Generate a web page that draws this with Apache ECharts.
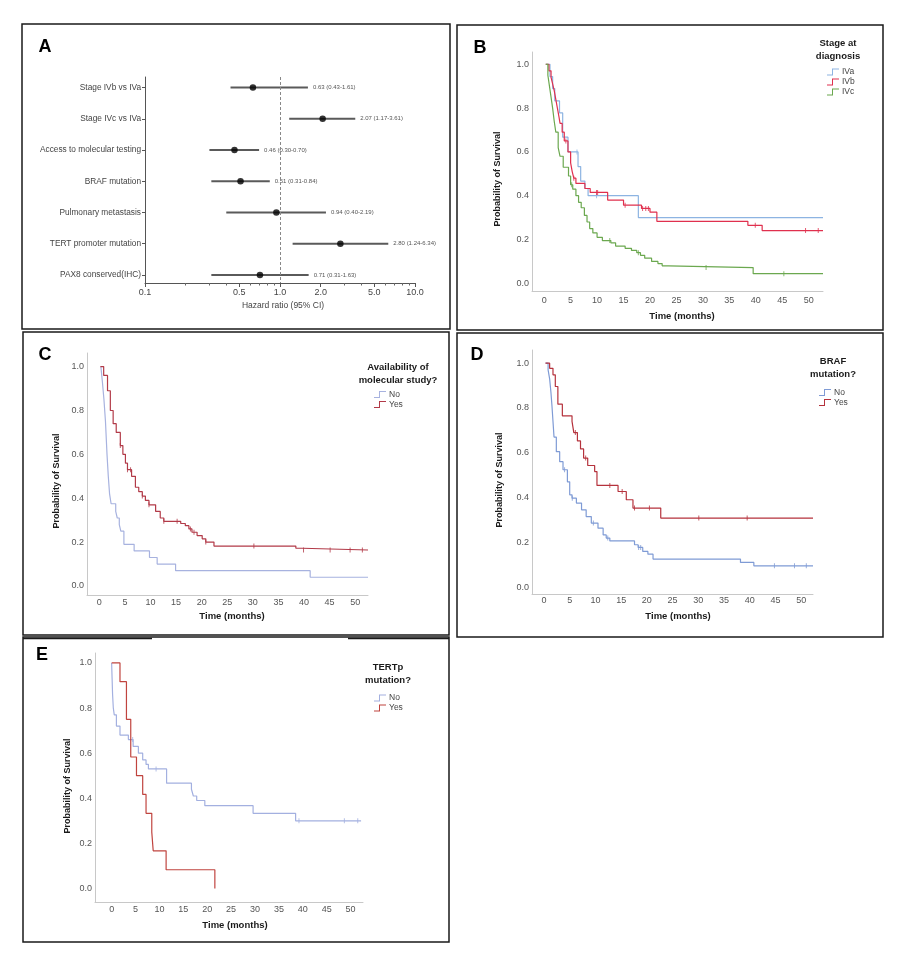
<!DOCTYPE html>
<html>
<head>
<meta charset="utf-8">
<script src="https://cdn.jsdelivr.net/npm/echarts@6.0.0/dist/echarts.min.js"></script>
<style>
  body { margin: 0; background: #fff; }
  #main { width: 906px; height: 956px; }
</style>
</head>
<body>
<div id="main"></div>
<script>
// ---- panel A: hazard ratios ----
var factorNames = ['Stage IVb vs IVa', 'Stage IVc vs IVa', 'Access to molecular testing', 'BRAF mutation',
    'Pulmonary metastasis', 'TERT promoter mutation', 'PAX8 conserved(IHC)'];
var hrValues = [0.63, 2.07, 0.46, 0.51, 0.94, 2.80, 0.71];
var hrLower = [0.43, 1.17, 0.30, 0.31, 0.40, 1.24, 0.31];
var hrUpper = [1.61, 3.61, 0.70, 0.84, 2.19, 6.34, 1.63];
var hrTicks = [0.1, 0.5, 1, 2, 5, 10];
var hrTickText = ['0.1', '0.5', '1.0', '2.0', '5.0', '10.0'];
var hrMinorTicks = [0.2, 0.3, 0.4, 0.6, 0.7, 0.8, 0.9, 3, 4, 6, 7, 8, 9];

// ---- survival curves: [month, survival] ----
var timeTicks = [0, 5, 10, 15, 20, 25, 30, 35, 40, 45, 50];
var survTicks = [0, 0.2, 0.4, 0.6, 0.8, 1.0];

// B: stage at diagnosis
var stageIVa = [[0.3, 1], [1.1, 0.944], [1.6, 0.889], [2.0, 0.833], [2.9, 0.778], [3.5, 0.667], [4.5, 0.6],
    [6.4, 0.533], [6.9, 0.467], [7.7, 0.433], [8.3, 0.4], [17.8, 0.3], [52.7, 0.3]];
var stageIVaCens = [6.2, 9.9];
var stageIVb = [[0.3, 1], [0.9, 0.97], [1.3, 0.94], [1.6, 0.91], [1.9, 0.88], [2.2, 0.84], [2.5, 0.8], [2.8, 0.76],
    [3.0, 0.73], [3.4, 0.69], [3.8, 0.65], [4.5, 0.6], [5.0, 0.55], [5.3, 0.51], [5.6, 0.48], [6.0, 0.456],
    [7.7, 0.433], [8.7, 0.415], [12.0, 0.38], [15.0, 0.357], [18.4, 0.342], [20.0, 0.325], [21.3, 0.283],
    [38.5, 0.265], [41.2, 0.241], [52.7, 0.241]];
var stageIVbCens = [4.1, 5.6, 9.9, 10.1, 15.3, 18.6, 19.2, 19.7, 39.9, 49.4, 51.8];
var stageIVc = [[0.3, 1], [0.7, 0.95], [1.0, 0.9], [1.3, 0.85], [1.6, 0.8], [1.9, 0.74], [2.2, 0.69], [2.65, 0.62],
    [3.0, 0.58], [3.6, 0.53], [4.6, 0.49], [5.0, 0.45], [5.4, 0.43], [6.0, 0.4], [6.5, 0.37], [7.0, 0.345],
    [7.6, 0.31], [8.1, 0.28], [8.6, 0.25], [9.2, 0.23], [10.0, 0.21], [11.0, 0.195], [12.6, 0.185], [13.5, 0.17],
    [15.3, 0.16], [16.5, 0.15], [17.5, 0.14], [18.2, 0.128], [19.0, 0.115], [20.3, 0.1], [21.5, 0.09],
    [22.3, 0.08], [23.5, 0.072], [39.5, 0.044], [52.7, 0.044]];
var stageIVcCens = [5.2, 12.4, 17.8, 30.6, 45.3];

// C: availability of molecular study
var molecNo = [[0.3, 1], [0.6, 0.93], [0.9, 0.85], [1.2, 0.75], [1.5, 0.6], [1.75, 0.5], [2.0, 0.42], [2.3, 0.375],
    [3.2, 0.34], [3.5, 0.31], [3.9, 0.28], [4.2, 0.25], [4.8, 0.19], [6.8, 0.16], [9.8, 0.13], [11.3, 0.1],
    [14.9, 0.07], [41.2, 0.04], [52.5, 0.04]];
var molecNoCens = [];
var molecYes = [[0.2, 1], [0.85, 0.96], [1.6, 0.89], [2.15, 0.8], [2.7, 0.74], [3.3, 0.7], [4.1, 0.64], [4.6, 0.6],
    [5.1, 0.56], [5.5, 0.53], [6.3, 0.5], [7.05, 0.45], [7.7, 0.43], [8.4, 0.41], [9.0, 0.39], [9.7, 0.37],
    [11.0, 0.34], [11.9, 0.31], [12.6, 0.295], [15.9, 0.285], [16.8, 0.275], [17.5, 0.26], [18.1, 0.245],
    [19.1, 0.23], [20.1, 0.215], [20.8, 0.2], [22.4, 0.182], [38.4, 0.172], [39.7, 0.164], [52.5, 0.164]];
var molecYesCens = [4.1, 5.5, 6.1, 8.4, 9.7, 12.6, 15.2, 17.8, 18.5, 20.8, 30.2, 39.9, 45.1, 49.0, 51.4];

// D: BRAF mutation
var brafNo = [[0.3, 1], [0.8, 0.97], [1.1, 0.93], [1.35, 0.87], [1.55, 0.81], [1.75, 0.74], [1.95, 0.67],
    [2.4, 0.605], [3.05, 0.56], [3.7, 0.524], [4.55, 0.47], [5.0, 0.412], [5.45, 0.397], [6.3, 0.375],
    [7.3, 0.345], [8.2, 0.315], [9.2, 0.286], [10.5, 0.263], [11.5, 0.233], [12.1, 0.219], [12.8, 0.206],
    [17.6, 0.189], [18.3, 0.177], [19.2, 0.159], [20.2, 0.147], [21.2, 0.125], [38.2, 0.11], [40.8, 0.095],
    [52.3, 0.095]];
var brafNoCens = [4.0, 5.5, 9.6, 12.4, 18.4, 18.8, 44.8, 48.7, 51.0];
var brafYes = [[0.3, 1], [1.1, 0.977], [1.75, 0.948], [2.2, 0.896], [2.7, 0.817], [3.57, 0.765], [5.45, 0.74],
    [5.8, 0.69], [6.5, 0.653], [7.1, 0.617], [7.7, 0.576], [8.5, 0.543], [9.85, 0.516], [10.3, 0.454],
    [14.4, 0.427], [16.0, 0.39], [17.3, 0.353], [22.7, 0.308], [52.3, 0.308]];
var brafYesCens = [6.1, 8.1, 12.8, 15.2, 17.6, 20.5, 30.1, 39.5];

// E: TERTp mutation
var tertNo = [[0, 1], [0.1, 0.93], [0.2, 0.86], [0.35, 0.8], [0.55, 0.77], [1.0, 0.72], [1.75, 0.68], [3.5, 0.66],
    [4.5, 0.63], [5.6, 0.6], [6.5, 0.57], [7.2, 0.55], [7.7, 0.53], [11.5, 0.467], [16.7, 0.44], [17.1, 0.41],
    [17.8, 0.39], [19.5, 0.367], [29.6, 0.333], [38.5, 0.3], [52.2, 0.3]];
var tertNoCens = [4.4, 9.3, 39.2, 48.7, 51.5];
var tertYes = [[0, 1], [1.75, 0.917], [3.1, 0.75], [4.0, 0.583], [5.2, 0.5], [6.5, 0.417], [7.2, 0.333],
    [8.4, 0.25], [8.7, 0.167], [11.4, 0.083], [21.6, 0]];
var tertYesCens = [];

var chart = echarts.init(document.getElementById('main'), null, { renderer: 'canvas' });
var FONT = '"Liberation Sans", Arial, sans-serif';
var stepIcon = 'path://M0,6 L5,6 L5,0 L12,0 L12,1 L6,1 L6,7 L0,7 Z';

function survAt(curve, t) {
    var s = curve[0][1];
    for (var i = 0; i < curve.length; i++) {
        if (curve[i][0] <= t) s = curve[i][1]; else break;
    }
    return s;
}

function kmSeries(name, curve, cens, color, axis) {
    return [{
        name: name, type: 'line', step: 'end', data: curve, showSymbol: false, silent: true,
        xAxisIndex: axis + 1, yAxisIndex: axis,
        color: color, lineStyle: { color: color, width: 1.2 }, itemStyle: { color: color }
    }, {
        name: name + ' cens', type: 'scatter', silent: true,
        xAxisIndex: axis + 1, yAxisIndex: axis,
        symbol: 'rect', symbolSize: [1, 5], itemStyle: { color: color },
        data: cens.map(t => [t, survAt(curve, t)])
    }];
}

function kmX(grid, min, max, margin) {
    return {
        type: 'value', gridIndex: grid, min: min, max: max, splitLine: { show: false },
        axisLine: { onZero: false, lineStyle: { color: '#c8c8c8' } }, axisTick: { show: false },
        axisLabel: { customValues: timeTicks, fontSize: 9, color: '#555', fontFamily: FONT, margin: margin }
    };
}
function kmY(grid, min, max) {
    return {
        type: 'value', gridIndex: grid, min: min, max: max, splitLine: { show: false },
        axisLine: { show: true, onZero: false, lineStyle: { color: '#c8c8c8' } }, axisTick: { show: false },
        axisLabel: { customValues: survTicks, formatter: v => v.toFixed(1), fontSize: 9, color: '#555', fontFamily: FONT, margin: 3 }
    };
}
function kmLegend(left, top, names) {
    return {
        orient: 'vertical', left: left, top: top, padding: 0, data: names, icon: stepIcon,
        itemWidth: 12, itemHeight: 7, itemGap: 0, selectedMode: false,
        formatter: name => name.split('|')[1],
        textStyle: { fontSize: 8.5, color: '#444', fontFamily: FONT, lineHeight: 10, padding: [0, 0, 0, -2] }
    };
}
function txt(x, y, text, size, bold, opts) {
    return Object.assign({
        type: 'text', x: x, y: y, silent: true,
        style: {
            text: text, fontSize: size, fontWeight: bold ? 'bold' : 'normal', fontFamily: FONT,
            fill: bold ? '#1a1a1a' : '#444', align: 'center', verticalAlign: 'middle', lineHeight: size + 3.5
        }
    }, opts || {});
}
function letter(x, y, text) {
    return { type: 'text', x: x, y: y, silent: true,
        style: { text: text, fontSize: 18, fontWeight: 'bold', fontFamily: FONT, fill: '#000', align: 'center', verticalAlign: 'middle' } };
}
function box(x, y, w, h) {
    return { type: 'rect', shape: { x: x, y: y, width: w, height: h }, silent: true,
        style: { fill: 'none', stroke: '#1a1a1a', lineWidth: 1.5 } };
}

var log = Math.log10;
var hrRows = factorNames.map((n, i) => [log(hrLower[i]), log(hrUpper[i]), i]);
var hrText = hrValues.map((v, i) => v.toFixed(2) + ' (' + hrLower[i].toFixed(2) + '-' + hrUpper[i].toFixed(2) + ')');

var option = {
    backgroundColor: '#fff',
    animation: false,
    grid: [
        { left: 145, top: 77, width: 270, height: 206 },
        { left: 532, top: 52, width: 291, height: 239 },
        { left: 87, top: 353, width: 281, height: 242 },
        { left: 532, top: 350, width: 281, height: 244 },
        { left: 95, top: 653, width: 268, height: 249 }
    ],
    xAxis: [
        {
            type: 'value', gridIndex: 0, min: -1, max: 1, splitLine: { show: false },
            axisLine: { onZero: false, lineStyle: { color: '#555' } },
            axisTick: { customValues: hrTicks.map(log), length: 4, lineStyle: { color: '#555' } },
            axisLabel: {
                customValues: hrTicks.map(log), fontSize: 9, color: '#444', fontFamily: FONT, margin: 5,
                formatter: v => {
                    for (var i = 0; i < hrTicks.length; i++) if (Math.abs(log(hrTicks[i]) - v) < 1e-6) return hrTickText[i];
                    return '';
                }
            }
        },
        {
            type: 'value', gridIndex: 0, min: -1, max: 1, position: 'bottom', splitLine: { show: false },
            axisLine: { show: false, onZero: false }, axisLabel: { show: false },
            axisTick: { customValues: hrMinorTicks.map(log), length: 2.5, lineStyle: { color: '#666' } }
        },
        kmX(1, -2.3, 52.7, 5),
        kmX(2, -2.41, 52.5, 3),
        kmX(3, -2.33, 52.3, 2),
        kmX(4, -3.48, 52.6, 3)
    ],
    yAxis: [
        {
            type: 'value', gridIndex: 0, inverse: true, min: -0.34, max: 6.26, splitLine: { show: false },
            axisLine: { show: true, onZero: false, lineStyle: { color: '#555' } },
            axisTick: { customValues: [0, 1, 2, 3, 4, 5, 6], length: 3, lineStyle: { color: '#555' } },
            axisLabel: {
                customValues: [0, 1, 2, 3, 4, 5, 6], formatter: v => factorNames[Math.round(v)],
                fontSize: 8.3, color: '#444', fontFamily: FONT, margin: 4
            }
        },
        kmY(1, -0.035, 1.056),
        kmY(2, -0.041, 1.062),
        kmY(3, -0.031, 1.059),
        kmY(4, -0.06, 1.044)
    ],
    legend: [
        kmLegend(827, 67, ['B|IVa', 'B|IVb', 'B|IVc']),
        kmLegend(374, 389.5, ['C|No', 'C|Yes']),
        kmLegend(819, 387.5, ['D|No', 'D|Yes']),
        kmLegend(374, 693, ['E|No', 'E|Yes'])
    ],
    graphic: [
        box(22, 24, 428, 305),
        box(457, 25, 426, 305),
        box(23, 332, 426, 303),
        box(457, 333, 426, 304),
        box(23, 637, 426, 305),
        { type: 'line', silent: true, shape: { x1: 23, y1: 638.5, x2: 152, y2: 638.5 }, style: { stroke: '#1a1a1a', lineWidth: 1.5 } },
        { type: 'line', silent: true, shape: { x1: 348, y1: 638.5, x2: 449, y2: 638.5 }, style: { stroke: '#1a1a1a', lineWidth: 1.5 } },
        // panel letters
        letter(45, 47, 'A'),
        letter(480, 48, 'B'),
        letter(45, 355, 'C'),
        letter(477, 355, 'D'),
        letter(42, 655, 'E'),
        // axis titles
        txt(283, 306, 'Hazard ratio (95% CI)', 8.5, false),
        txt(682, 316, 'Time (months)', 9.5, true),
        txt(232, 616, 'Time (months)', 9.5, true),
        txt(678, 616, 'Time (months)', 9.5, true),
        txt(235, 925, 'Time (months)', 9.5, true),
        txt(498, 179, 'Probability of Survival', 9, true, { rotation: Math.PI / 2 }),
        txt(57, 481, 'Probability of Survival', 9, true, { rotation: Math.PI / 2 }),
        txt(500, 480, 'Probability of Survival', 9, true, { rotation: Math.PI / 2 }),
        txt(68, 786, 'Probability of Survival', 9, true, { rotation: Math.PI / 2 }),
        // legend titles
        txt(838, 49.5, 'Stage at\ndiagnosis', 9.5, true),
        txt(398, 374, 'Availability of\nmolecular study?', 9.5, true),
        txt(833, 368, 'BRAF\nmutation?', 9.5, true),
        txt(388, 673.5, 'TERTp\nmutation?', 9.5, true)
    ],
    series: [
        {
            name: 'ci', type: 'custom', xAxisIndex: 0, yAxisIndex: 0, silent: true, data: hrRows,
            renderItem: (params, api) => {
                var i = api.value(2);
                var a = api.coord([api.value(0), i]);
                var b = api.coord([api.value(1), i]);
                return {
                    type: 'group', children: [
                        { type: 'line', shape: { x1: a[0], y1: a[1], x2: b[0], y2: b[1] }, style: { stroke: '#5a5a5a', lineWidth: 2 } },
                        { type: 'text', style: { text: hrText[i], x: b[0] + 5, y: b[1], verticalAlign: 'middle', fontSize: 6, fill: '#555', fontFamily: FONT } }
                    ]
                };
            }
        },
        {
            name: 'hr', type: 'scatter', xAxisIndex: 0, yAxisIndex: 0, silent: true, z: 3,
            symbolSize: 6.5, itemStyle: { color: '#000' },
            data: hrValues.map((v, i) => [log(v), i]),
            markLine: {
                silent: true, symbol: 'none', label: { show: false },
                lineStyle: { type: [3, 2], color: '#888', width: 1 },
                data: [{ xAxis: 0 }]
            }
        }
    ]
        .concat(kmSeries('B|IVa', stageIVa, stageIVaCens, '#8db4e2', 1))
        .concat(kmSeries('B|IVb', stageIVb, stageIVbCens, '#e0304e', 1))
        .concat(kmSeries('B|IVc', stageIVc, stageIVcCens, '#6ba84f', 1))
        .concat(kmSeries('C|No', molecNo, molecNoCens, '#a7b2df', 2))
        .concat(kmSeries('C|Yes', molecYes, molecYesCens, '#b23a48', 2))
        .concat(kmSeries('D|No', brafNo, brafNoCens, '#7f9bd5', 3))
        .concat(kmSeries('D|Yes', brafYes, brafYesCens, '#b5323c', 3))
        .concat(kmSeries('E|No', tertNo, tertNoCens, '#a3b0e0', 4))
        .concat(kmSeries('E|Yes', tertYes, tertYesCens, '#c0443f', 4))
};

chart.setOption(option);
window.addEventListener('resize', chart.resize);
</script>
</body>
</html>
